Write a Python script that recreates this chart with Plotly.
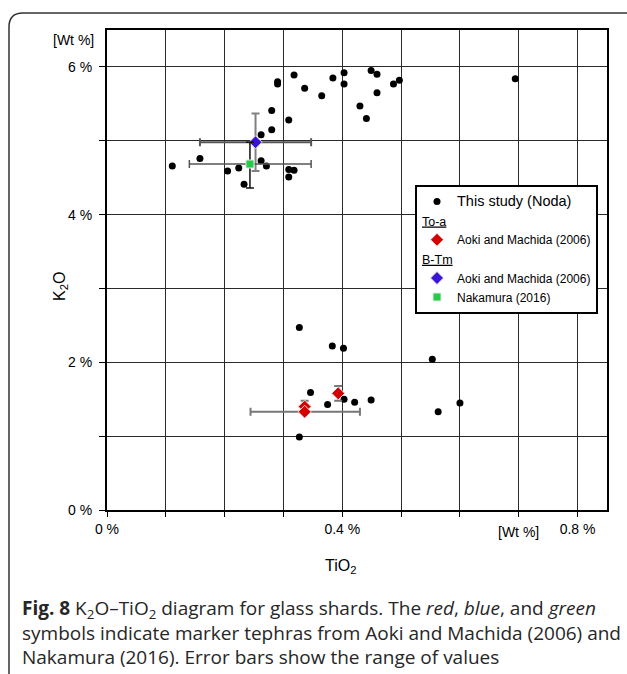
import plotly.graph_objects as go

# ---------------- data ----------------
study_tio2 = [0.318, 0.290, 0.290, 0.384, 0.403, 0.403, 0.336, 0.365, 0.430, 0.280,
              0.309, 0.280, 0.262, 0.158, 0.111, 0.262, 0.271, 0.224, 0.205, 0.309,
              0.318, 0.309, 0.233, 0.449, 0.459, 0.459, 0.441, 0.487, 0.497, 0.694,
              0.327, 0.383, 0.402, 0.553, 0.346, 0.375, 0.403, 0.421, 0.449, 0.563,
              0.600, 0.327]
study_k2o = [5.89, 5.80, 5.77, 5.85, 5.92, 5.77, 5.71, 5.61, 5.47, 5.41,
             5.28, 5.15, 5.08, 4.76, 4.66, 4.73, 4.66, 4.63, 4.59, 4.61,
             4.60, 4.51, 4.41, 5.95, 5.90, 5.65, 5.30, 5.77, 5.82, 5.84,
             2.47, 2.22, 2.19, 2.04, 1.59, 1.43, 1.50, 1.46, 1.49, 1.33,
             1.45, 0.99]

toa_tio2 = [0.393, 0.336, 0.336]
toa_k2o = [1.58, 1.40, 1.33]
toa_x_plus = [0.0, 0.0, 0.094]
toa_x_minus = [0.0, 0.0, 0.092]
toa_y_plus = [0.10, 0.08, 0.0]
toa_y_minus = [0.10, 0.07, 0.0]

btm_aoki_tio2 = [0.2525]
btm_aoki_k2o = [4.98]
btm_aoki_x_err = [0.0945]
btm_aoki_y_err = [0.39]

btm_naka_tio2 = [0.243]
btm_naka_k2o = [4.685]
btm_naka_x_plus = [0.104]
btm_naka_x_minus = [0.103]
btm_naka_y_plus = [0.295]
btm_naka_y_minus = [0.325]

x_tickvals = [0, 0.4, 0.8]
x_ticktext = ["0 %", "0.4 %", "0.8 %"]
y_tickvals = [0, 2, 4, 6]
y_ticktext = ["0 %", "2 %", "4 %", "6 %"]

# ---------------- layout helpers ----------------
W, H = 627, 674
ML, MR, MT, MB = 107, 20, 30, 164
PW, PH = W - ML - MR, H - MT - MB


def px(x):
    return (x - ML) / PW


def py(y):
    return (H - MB - y) / PH


AX_FONT = "Liberation Sans"
CAP_FONT = "Open Sans"
GRID = "#2a2a2a"

fig = go.Figure()

fig.add_trace(go.Scatter(
    x=study_tio2, y=study_k2o, mode="markers",
    name="<span style='font-size:14.5px'>This study (Noda)</span>",
    legendgroup="study",
    marker=dict(color="black", size=7),
))

fig.add_trace(go.Scatter(
    x=toa_tio2, y=toa_k2o, mode="markers",
    name="Aoki and Machida (2006)",
    legendgroup="toa",
    legendgrouptitle=dict(text="<u>To-a</u>", font=dict(size=12.5, family=AX_FONT, color="black")),
    marker=dict(color="#d40000", size=10, symbol="diamond",
                line=dict(color="#e6e6e6", width=1)),
    error_x=dict(type="data", symmetric=False, array=toa_x_plus, arrayminus=toa_x_minus,
                 color="#777777", thickness=2, width=4),
    error_y=dict(type="data", symmetric=False, array=toa_y_plus, arrayminus=toa_y_minus,
                 color="#777777", thickness=2, width=4),
))

fig.add_trace(go.Scatter(
    x=btm_aoki_tio2, y=btm_aoki_k2o, mode="markers",
    name="Aoki and Machida (2006)",
    legendgroup="btm",
    legendgrouptitle=dict(text="<u>B-Tm</u>", font=dict(size=12.5, family=AX_FONT, color="black")),
    marker=dict(color="#3a14d2", size=10, symbol="diamond",
                line=dict(color="#e6e6e6", width=1)),
    error_x=dict(type="data", array=btm_aoki_x_err, color="#555555", thickness=2, width=4),
    error_y=dict(type="data", array=btm_aoki_y_err, color="#808080", thickness=2, width=4),
))

fig.add_trace(go.Scatter(
    x=btm_naka_tio2, y=btm_naka_k2o, mode="markers",
    name="Nakamura (2016)",
    legendgroup="btm",
    marker=dict(color="#22cc44", size=8, symbol="square",
                line=dict(color="#e6e6e6", width=1)),
    error_x=dict(type="data", symmetric=False, array=btm_naka_x_plus, arrayminus=btm_naka_x_minus,
                 color="#555555", thickness=1.5, width=4),
    error_y=dict(type="data", symmetric=False, array=btm_naka_y_plus, arrayminus=btm_naka_y_minus,
                 color="#111111", thickness=1.5, width=4),
))

fig.update_xaxes(
    range=[0, 0.85], tickvals=x_tickvals, ticktext=x_ticktext,
    showgrid=True, gridcolor=GRID, gridwidth=1,
    minor=dict(dtick=0.1, tick0=0, showgrid=True, gridcolor=GRID, gridwidth=1,
               ticks="outside", ticklen=5, tickcolor="black"),
    showline=True, linecolor="black", linewidth=2, mirror=True,
    ticks="outside", ticklen=5, tickcolor="black",
    tickfont=dict(family=AX_FONT, size=14, color="black"),
    zeroline=False,
)
fig.update_yaxes(
    range=[0, 6.5], tickvals=y_tickvals, ticktext=y_ticktext,
    showgrid=True, gridcolor=GRID, gridwidth=1,
    minor=dict(dtick=1, tick0=0, showgrid=True, gridcolor=GRID, gridwidth=1,
               ticks="outside", ticklen=6, tickcolor="black"),
    showline=True, linecolor="black", linewidth=2, mirror=True,
    ticks="outside", ticklen=6, tickcolor="black", ticklabelstandoff=4,
    tickfont=dict(family=AX_FONT, size=14, color="black"),
    zeroline=False,
)

ann = []
ann.append(dict(x=px(73), y=py(40), xref="paper", yref="paper", text="[Wt %]",
                xanchor="center", yanchor="middle",
                showarrow=False, font=dict(family=AX_FONT, size=14, color="black")))
ann.append(dict(x=px(518), y=py(532), xref="paper", yref="paper", text="[Wt %]",
                xanchor="center", yanchor="middle",
                showarrow=False, font=dict(family=AX_FONT, size=14, color="black")))
ann.append(dict(x=px(60), y=py(287), xref="paper", yref="paper", text="K<sub>2</sub>O",
                xanchor="center", yanchor="middle",
                textangle=-90, showarrow=False, font=dict(family=AX_FONT, size=16, color="black")))
ann.append(dict(x=px(340), y=py(566), xref="paper", yref="paper", text="TiO<sub>2</sub>",
                xanchor="center", yanchor="middle",
                showarrow=False, font=dict(family=AX_FONT, size=16, color="black")))

caption_lines = [
    "<b>Fig. 8</b> K<sub>2</sub>O–TiO<sub>2</sub> diagram for glass shards. The <i>red</i>, <i>blue</i>, and <i>green</i>",
    "symbols indicate marker tephras from Aoki and Machida (2006) and",
    "Nakamura (2016). Error bars show the range of values",
]
ann.append(dict(x=px(20), y=py(632), xref="paper", yref="paper", text="<br>".join(caption_lines),
                xanchor="left", yanchor="middle", align="left", showarrow=False,
                font=dict(family=CAP_FONT, size=19, color="#262626")))

# outer rounded frame
r = 14
x0, y0, x1, y1 = 9, 13, 640, 690
path = (f"M {px(x0)},{py(y1)} L {px(x0)},{py(y0 + r)} "
        f"Q {px(x0)},{py(y0)} {px(x0 + r)},{py(y0)} L {px(x1)},{py(y0)}")

fig.update_layout(
    width=W, height=H,
    margin=dict(l=ML, r=MR, t=MT, b=MB),
    paper_bgcolor="white", plot_bgcolor="white",
    annotations=ann,
    shapes=[dict(type="path", path=path, xref="paper", yref="paper",
                 line=dict(color="#333333", width=1.5), layer="above")],
    legend=dict(
        x=px(415), y=py(185), xanchor="left", yanchor="top",
        bgcolor="white", bordercolor="black", borderwidth=2,
        font=dict(family=AX_FONT, size=12, color="black"),
        tracegroupgap=0, traceorder="grouped",
    ),
    showlegend=True,
)

fig.write_html("out.html", config={"displayModeBar": False},
               post_script="document.body.style.margin='0';")
